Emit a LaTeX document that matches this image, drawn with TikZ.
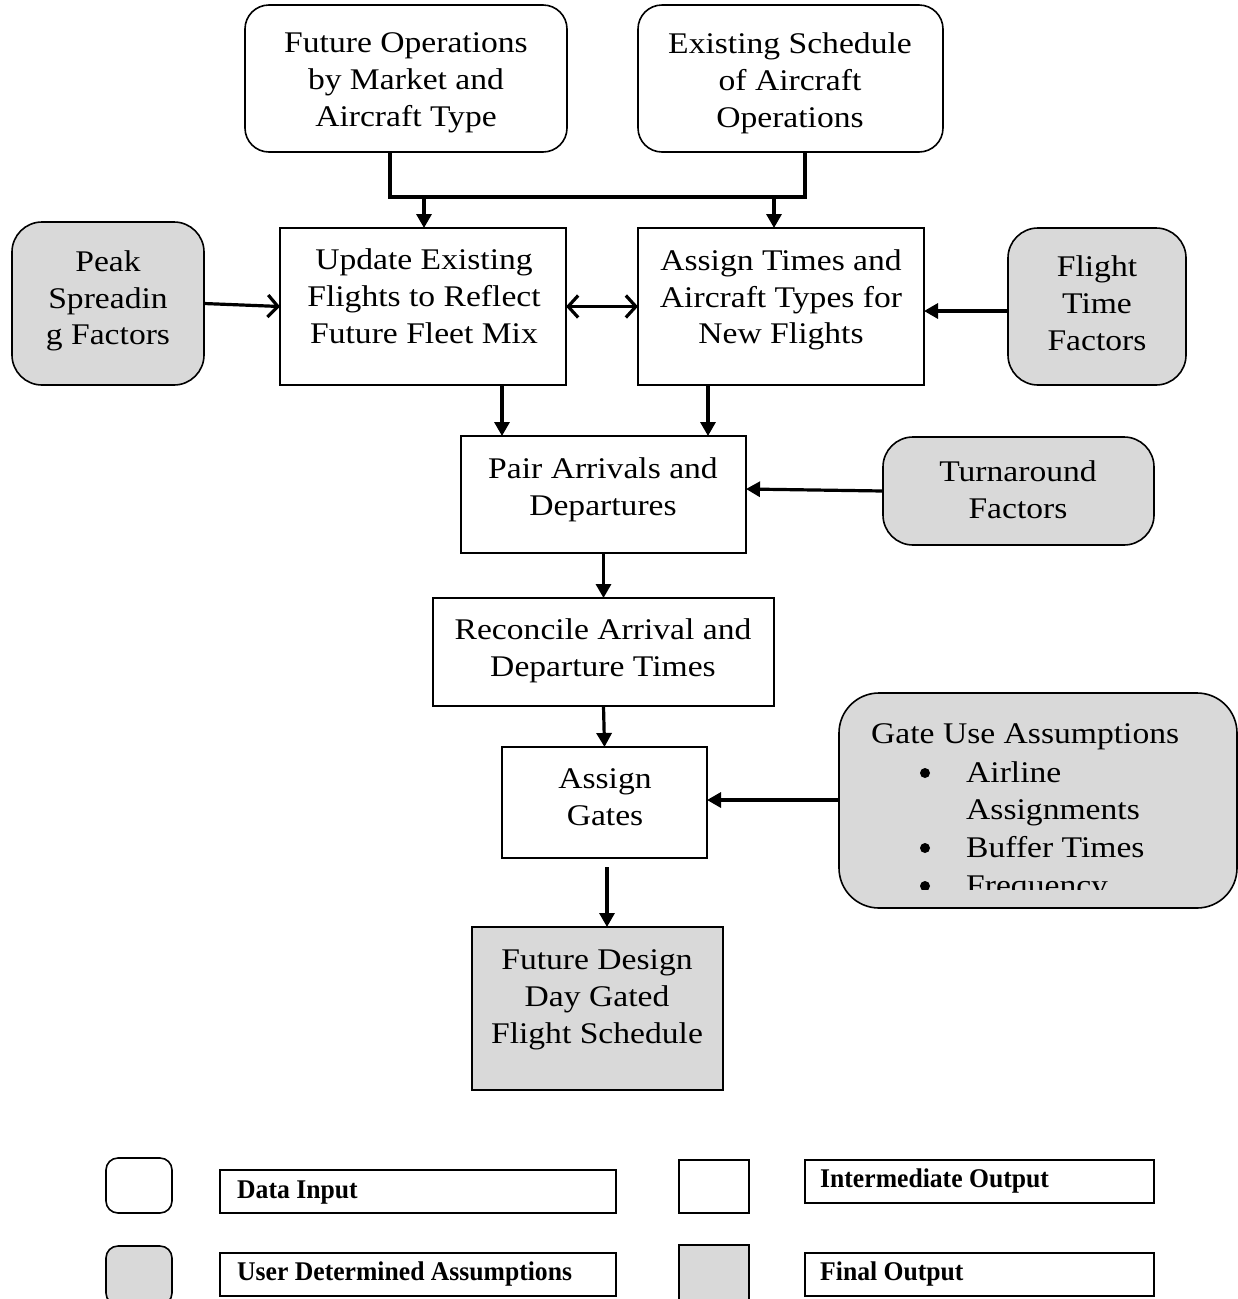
\documentclass[tikz,border=0pt]{standalone}
\usepackage{fontspec}
\setmainfont{Liberation Serif}[FakeStretch=1.12]
\newfontfamily\legfont{Liberation Serif}[FakeStretch=0.95]
\usetikzlibrary{arrows.meta}

\definecolor{assumfill}{HTML}{D9D9D9}

% box given by its corners: name, style, x1, y1, x2, y2
\newcommand\flowbox[6]{%
  \node[#2, minimum width={#5-#3}, minimum height={#6-#4}]
    (#1) at ({(#3+#5)/2},{(#4+#6)/2}) {};}

\begin{document}
\begin{tikzpicture}[x=1pt,y=-1pt,
  base/.style={draw, line width=1.6pt, inner sep=0pt, outer sep=0pt},
  datain/.style={base, fill=white, rounded corners=24pt},
  userin/.style={base, fill=assumfill, rounded corners=30pt},
  interm/.style={base, fill=white},
  finalout/.style={base, fill=assumfill},
  txt/.style={align=center, inner sep=0pt, font=\fontsize{30}{36.8}\selectfont},
  legtxt/.style={anchor=west, inner sep=0pt, font=\legfont\fontsize{27}{30}\selectfont\bfseries},
  dot/.style={fill=black},
  bus/.style={line width=3.8pt},
  arr/.style={line width=3.2pt, -{Triangle[length=14pt,width=15pt]}},
  oarr/.style={line width=3.2pt, -{Straight Barb[length=10pt,width=22pt,line width=3.2pt]}},
  darr/.style={line width=3.2pt, {Straight Barb[length=10pt,width=22pt,line width=3.2pt]}-{Straight Barb[length=10pt,width=22pt,line width=3.2pt]}}
]
\useasboundingbox (0,0) rectangle (1238,1299);

% ---- data inputs ----
\flowbox{fo}{datain}{245}{5}{567}{152}
\node[txt] (fot) at (406,83) {Future Operations\\by Market and\\Aircraft Type};
\flowbox{es}{datain}{638}{5}{943}{152}
\node[txt] (est) at (790,83) {Existing Schedule\\of Aircraft\\Operations};

% ---- first processing row ----
\flowbox{up}{interm}{280}{228}{566}{385}
\node[txt] (upt) at (424,296) {Update Existing\\Flights to Reflect\\Future Fleet Mix};
\flowbox{as}{interm}{638}{228}{924}{385}
\node[txt] (ast) at (781,300) {Assign Times and\\Aircraft Types for\\New Flights};

% ---- side assumptions ----
\flowbox{pk}{userin}{12}{222}{204}{385}
\node[txt] (pkt) at (108,301) {Peak\\Spreadin\\g Factors};
\flowbox{ft}{userin}{1008}{228}{1186}{385}
\node[txt] (ftt) at (1097,303) {Flight\\Time\\Factors};

% ---- pairing and reconciliation ----
\flowbox{pa}{interm}{461}{436}{746}{553}
\node[txt] (pat) at (603,490) {Pair Arrivals and\\Departures};
\flowbox{ta}{userin}{883}{437}{1154}{545}
\node[txt] (tat) at (1018,490) {Turnaround\\Factors};
\flowbox{rc}{interm}{433}{598}{774}{706}
\node[txt] (rct) at (603,651) {Reconcile Arrival and\\Departure Times};
\flowbox{ag}{interm}{502}{747}{707}{858}
\node[txt] (agt) at (605,797) {Assign\\Gates};

% ---- gate use assumptions (list runs past the box) ----
\flowbox{gu}{userin, rounded corners=40pt}{839}{693}{1237}{908}
\begin{scope}
  \clip (839,693) rectangle (1237,889);
  \node[txt, anchor=base west] (gu0) at (871,743) {Gate Use Assumptions};
  \fill[dot] (925,773) circle (5pt);
  \node[txt, anchor=base west] (gu1) at (966,782) {Airline};
  \node[txt, anchor=base west] (gu2) at (966,819) {Assignments};
  \fill[dot] (925,848) circle (5pt);
  \node[txt, anchor=base west] (gu3) at (966,857) {Buffer Times};
  \fill[dot] (925,886) circle (5pt);
  \node[txt, anchor=base west] (gu4) at (966,895) {Frequency};
\end{scope}

% ---- final output ----
\flowbox{fd}{finalout}{472}{927}{723}{1090}
\node[txt] (fdt) at (597,1000) {Future Design\\Day Gated\\Flight Schedule};

% ---- connectors ----
\coordinate (j1) at (390,197);
\coordinate (j2) at (805,197);
\coordinate (ja) at (424,197);
\coordinate (jb) at (774,197);
\draw[bus] (fo.south -| j1) -- (j1) -- (j2) -- (es.south -| j2);
\draw[arr] (ja) -- (ja |- up.north);
\draw[arr] (jb) -- (jb |- as.north);

\draw[oarr] (pk.east) -- (up.west);
\draw[darr] (up.east) -- (as.west);
\draw[arr] (ft.west |- 0,311) -- (as.east |- 0,311);

\coordinate (ka) at (502,385);
\coordinate (kb) at (708,385);
\draw[arr] (ka) -- (ka |- pa.north);
\draw[arr] (kb) -- (kb |- pa.north);
\draw[arr] (ta.west) -- (pa.east |- 0,489);

\draw[arr] (pa.south) -- (rc.north);
\draw[arr] (rc.south) -- (ag.north);
\draw[arr] (gu.west |- 0,800) -- (ag.east |- 0,800);
\coordinate (kc) at (607,867);
\draw[arr] (kc) -- (kc |- fd.north);

% ---- legend ----
\flowbox{l1}{datain, rounded corners=12pt}{106}{1158}{172}{1213}
\flowbox{l1b}{interm}{220}{1170}{616}{1213}
\node[legtxt] (l1t) at (237,1193) {Data Input};
\flowbox{l2}{interm}{679}{1160}{749}{1213}
\flowbox{l2b}{interm}{805}{1160}{1154}{1203}
\node[legtxt] (l2t) at (820,1181) {Intermediate Output};
\flowbox{l3}{userin, rounded corners=12pt}{106}{1246}{172}{1305}
\flowbox{l3b}{interm}{220}{1253}{616}{1296}
\node[legtxt] (l3t) at (237,1274) {User Determined Assumptions};
\flowbox{l4}{finalout}{679}{1245}{749}{1305}
\flowbox{l4b}{interm}{805}{1253}{1154}{1296}
\node[legtxt] (l4t) at (820,1274) {Final Output};
\end{tikzpicture}
\end{document}
